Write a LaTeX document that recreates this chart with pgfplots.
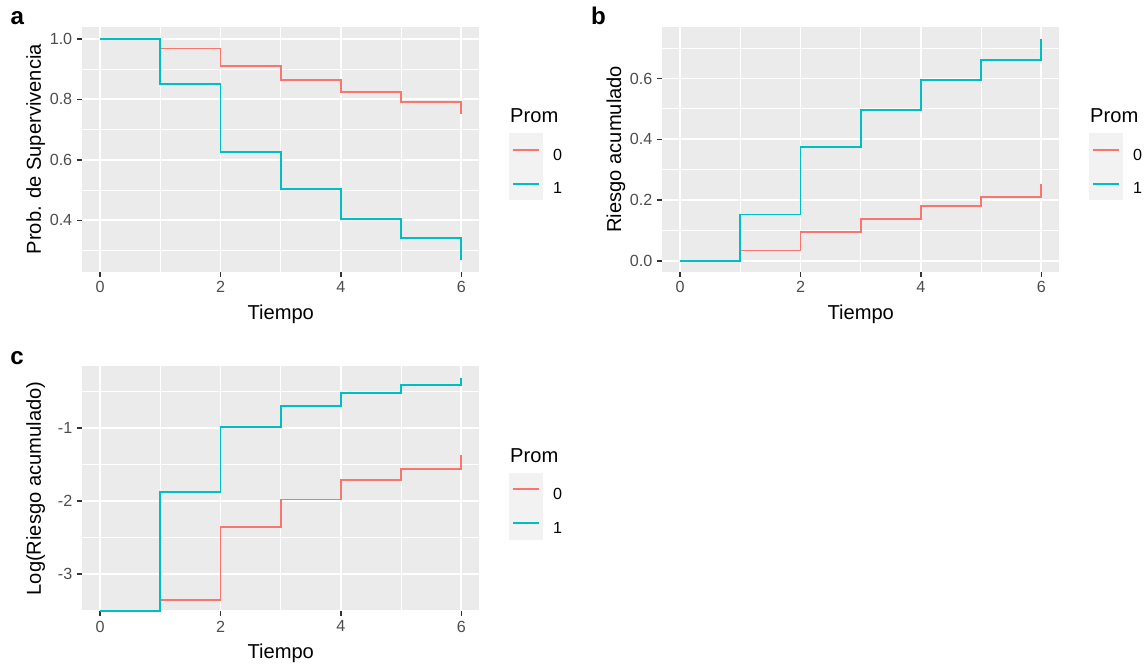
\documentclass[border=0pt]{standalone}
\usepackage{fontspec}
\setmainfont{Liberation Sans}
\usepackage{pgfplots}
\pgfplotsset{compat=1.18}

\definecolor{ggred}{HTML}{F8766D}
\definecolor{ggteal}{HTML}{00BFC4}
\definecolor{panelbg}{HTML}{EBEBEB}
\definecolor{keybg}{HTML}{F2F2F2}
\definecolor{ticklab}{HTML}{4D4D4D}
\definecolor{tickcol}{HTML}{333333}

\newcommand{\titlefont}{\fontsize{15.1pt}{18pt}\selectfont}
\newcommand{\tickfont}{\fontsize{12.1pt}{14.5pt}\selectfont}

\pgfplotsset{
  ggpanel/.style={
    scale only axis, width=298.1pt, height=183.75pt, clip=false,
    axis background/.style={fill=panelbg},
    axis line style={draw=none},
    grid=both,
    major grid style={white, line width=1.45pt},
    minor grid style={white, line width=0.72pt},
    tick align=outside, tick pos=left,
    major tick length=3.8pt, minor tick length=0pt,
    tick style={tickcol, line width=1.1pt},
    xmin=-0.3, xmax=6.3, xtick={0,2,4,6}, minor xtick={1,3,5},
    ticklabel style={font=\tickfont, text=ticklab},
    /pgf/number format/assume math mode=true,
    label style={font=\titlefont},
    xlabel style={at={(axis description cs:0.5,0)}, anchor=base, yshift=-35.8pt},
    ylabel style={at={([xshift=-30.75pt]axis description cs:0,0.5)}, anchor=base, rotate=0},
    legend cell align=left,
    legend style={at={(axis description cs:1.0755,0.5649)}, anchor=north west,
      draw=none, fill=none, inner sep=0pt, outer sep=0pt,
      row sep=0pt, column sep=7.5pt, font=\tickfont,
      nodes={inner sep=0pt, text=black}},
    legend image code/.code={
      \fill[keybg] (0pt,-7.55pt) rectangle (23.7pt,16.15pt);
      \draw[#1] (2pt,4.3pt) -- (21.7pt,4.3pt);
    },
    every axis plot/.append style={line width=1.45pt, const plot mark left, mark=none},
  },
  survtick/.style={yticklabel style={/pgf/number format/.cd, fixed, fixed zerofill, precision=1}},
}

\begin{document}
\begin{tikzpicture}
\useasboundingbox (0,0) rectangle (858.75pt,498pt);

% panel tags
\node[anchor=base west, inner sep=0pt, font=\fontsize{18.1pt}{21pt}\selectfont\bfseries] at (7.7pt,479.25pt) {a};
\node[anchor=base west, inner sep=0pt, font=\fontsize{18.1pt}{21pt}\selectfont\bfseries] at (443.2pt,479.25pt) {b};
\node[anchor=base west, inner sep=0pt, font=\fontsize{18.1pt}{21pt}\selectfont\bfseries] at (7.5pt,224.25pt) {c};

% a: Kaplan-Meier survival
\begin{axis}[ggpanel, survtick, at={(61.5pt,294.2pt)}, anchor=south west,
  ymin=0.230, ymax=1.040, ytick={0.4,0.6,0.8,1.0}, minor ytick={0.3,0.5,0.7,0.9},
  xlabel={Tiempo}, ylabel={Prob. de Supervivencia}]
\addplot[ggred] coordinates {(0,1) (1,0.968) (2,0.909) (3,0.864) (4,0.823) (5,0.792) (6,0.753)};
\addlegendentry{0}
\addplot[ggteal] coordinates {(0,1) (1,0.850) (2,0.627) (3,0.505) (4,0.404) (5,0.340) (6,0.268)};
\addlegendentry{1}
\node[anchor=west, inner sep=0pt, font=\titlefont] at (axis description cs:1.0767,0.6355) {Prom};
\end{axis}

% b: cumulative hazard
\begin{axis}[ggpanel, survtick, at={(496.5pt,294.2pt)}, anchor=south west,
  ymin=-0.035, ymax=0.770, ytick={0,0.2,0.4,0.6}, minor ytick={0.1,0.3,0.5,0.7},
  xlabel={Tiempo}, ylabel={Riesgo acumulado}]
\addplot[ggred] coordinates {(0,0) (1,0.0347) (2,0.0952) (3,0.138) (4,0.180) (5,0.210) (6,0.254)};
\addlegendentry{0}
\addplot[ggteal] coordinates {(0,0) (1,0.153) (2,0.375) (3,0.497) (4,0.594) (5,0.661) (6,0.729)};
\addlegendentry{1}
\node[anchor=west, inner sep=0pt, font=\titlefont] at (axis description cs:1.0767,0.6355) {Prom};
\end{axis}

% c: log cumulative hazard (log 0 shown on the lower edge)
\begin{axis}[ggpanel, at={(61.5pt,39.75pt)}, anchor=south west,
  ymin=-3.51, ymax=-0.15, ytick={-3,-2,-1}, minor ytick={-3.5,-2.5,-1.5,-0.5},
  xlabel={Tiempo}, ylabel={Log(Riesgo acumulado)}]
\addplot[ggred] coordinates {(0,-3.51) (1,-3.361) (2,-2.352) (3,-1.981) (4,-1.715) (5,-1.561) (6,-1.370)};
\addlegendentry{0}
\addplot[ggteal] coordinates {(0,-3.51) (1,-1.877) (2,-0.981) (3,-0.699) (4,-0.521) (5,-0.414) (6,-0.316)};
\addlegendentry{1}
\node[anchor=west, inner sep=0pt, font=\titlefont] at (axis description cs:1.0767,0.6355) {Prom};
\end{axis}
\end{tikzpicture}
\end{document}
